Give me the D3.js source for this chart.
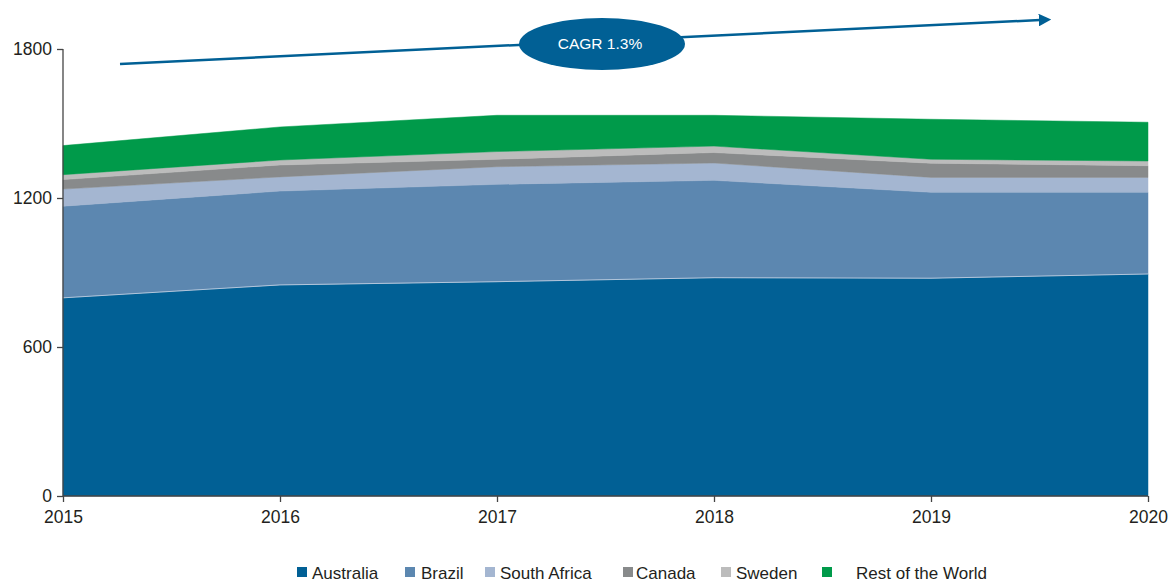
<!DOCTYPE html>
<html>
<head>
<meta charset="utf-8">
<script src="https://cdn.jsdelivr.net/npm/d3@7"></script>
<style>
  body { margin: 0; background: #fff; }
  .axis text { font-family: "Liberation Sans", Arial, sans-serif; font-size: 17.5px; fill: #231f20; }
  .axis path, .axis line { stroke: #444; stroke-width: 1.3px; }
  .legend text { font-family: "Liberation Sans", Arial, sans-serif; font-size: 17px; fill: #231f20; }
</style>
</head>
<body>
<script>
var width = 1175,
    height = 582;

// data
var years = [2015, 2016, 2017, 2018, 2019, 2020];
var australia   = [798, 850, 863, 879, 877, 894];
var brazil      = [369, 378, 392, 392, 346, 329];
var southAfrica = [69, 57, 71, 70, 60, 60];
var canada      = [38, 48, 30, 42, 57, 47];
var sweden      = [20, 20, 31, 26, 16, 19];
var restOfWorld = [117, 133, 146, 124, 161, 156];
var yTicks = [0, 600, 1200, 1800];
var seriesNames = ["Australia", "Brazil", "South Africa", "Canada", "Sweden", "Rest of the World"];
var colors = ["#016095", "#5c87b0", "#a4b6d1", "#888a8b", "#bcbcbc", "#009a4a"];
var cagrLabel = "CAGR 1.3%";

var seriesValues = [australia, brazil, southAfrica, canada, sweden, restOfWorld];
var table = years.map(function(y, i) {
    var row = { year: y };
    seriesNames.forEach(function(n, k) { row[n] = seriesValues[k][i]; });
    return row;
});

var svg = d3.select("body").append("svg")
    .attr("width", width)
    .attr("height", height);

var x = d3.scaleLinear()
    .domain([2015, 2020])
    .range([63, 1148]);

var y = d3.scaleLinear()
    .domain([0, 1800])
    .range([496, 49]);

var stack = d3.stack().keys(seriesNames);
var layers = stack(table);

var area = d3.area()
    .x(d => x(d.data.year))
    .y0(d => y(d[0]))
    .y1(d => y(d[1]));

svg.selectAll("path.layer")
    .data(layers)
    .enter()
    .append("path")
    .attr("class", "layer")
    .attr("d", area)
    .attr("fill", (d, i) => colors[i])
    .attr("stroke", (d, i) => colors[i])
    .attr("stroke-width", 0.5);

// thin light edge along the top of australia
svg.append("path")
    .datum(layers[0])
    .attr("d", d3.line().x(d => x(d.data.year)).y(d => y(d[1])))
    .attr("fill", "none")
    .attr("stroke", "#c9d6e6")
    .attr("stroke-width", 0.8);

// axes
svg.append("g")
    .attr("class", "axis")
    .attr("transform", "translate(63,0)")
    .call(d3.axisLeft(y).tickValues(yTicks).tickSize(6).tickPadding(5).tickFormat(d3.format("d")))
    .call(g => g.select(".domain").attr("d", "M0," + y(1800) + "V" + y(0)));

svg.append("g")
    .attr("class", "axis")
    .attr("transform", "translate(0,496)")
    .call(d3.axisBottom(x).tickValues(years).tickSize(6).tickPadding(9).tickFormat(d3.format("d")))
    .call(g => g.select(".domain").attr("d", "M" + x(2015) + ",0H" + x(2020)));

// CAGR arrow
svg.append("defs").append("marker")
    .attr("id", "arrow")
    .attr("viewBox", "0 0 10 10")
    .attr("refX", 1)
    .attr("refY", 5)
    .attr("markerWidth", 5)
    .attr("markerHeight", 5)
    .attr("markerUnits", "strokeWidth")
    .attr("orient", "auto")
    .append("path")
    .attr("d", "M0,0L10,5L0,10Z")
    .attr("fill", "#016095");

svg.append("line")
    .attr("x1", 120).attr("y1", 64)
    .attr("x2", 1040).attr("y2", 20)
    .attr("stroke", "#016095")
    .attr("stroke-width", 2.5)
    .attr("marker-end", "url(#arrow)");

svg.append("ellipse")
    .attr("cx", 602).attr("cy", 44)
    .attr("rx", 83).attr("ry", 26)
    .attr("fill", "#016095");

svg.append("text")
    .attr("x", 600).attr("y", 49)
    .attr("text-anchor", "middle")
    .attr("font-family", "Liberation Sans, Arial, sans-serif")
    .attr("font-size", 15.5)
    .attr("fill", "#fff")
    .text(cagrLabel);

// legend: [square x, text x]
var legendPos = [[297, 312], [405, 421], [485, 500], [623, 636], [721, 736], [822, 856]];
var legend = svg.append("g").attr("class", "legend");
seriesNames.forEach(function(n, i) {
    legend.append("rect")
        .attr("x", legendPos[i][0]).attr("y", 567)
        .attr("width", 10).attr("height", 10)
        .attr("fill", colors[i]);
    legend.append("text")
        .attr("x", legendPos[i][1]).attr("y", 579)
        .text(n);
});
</script>
</body>
</html>
